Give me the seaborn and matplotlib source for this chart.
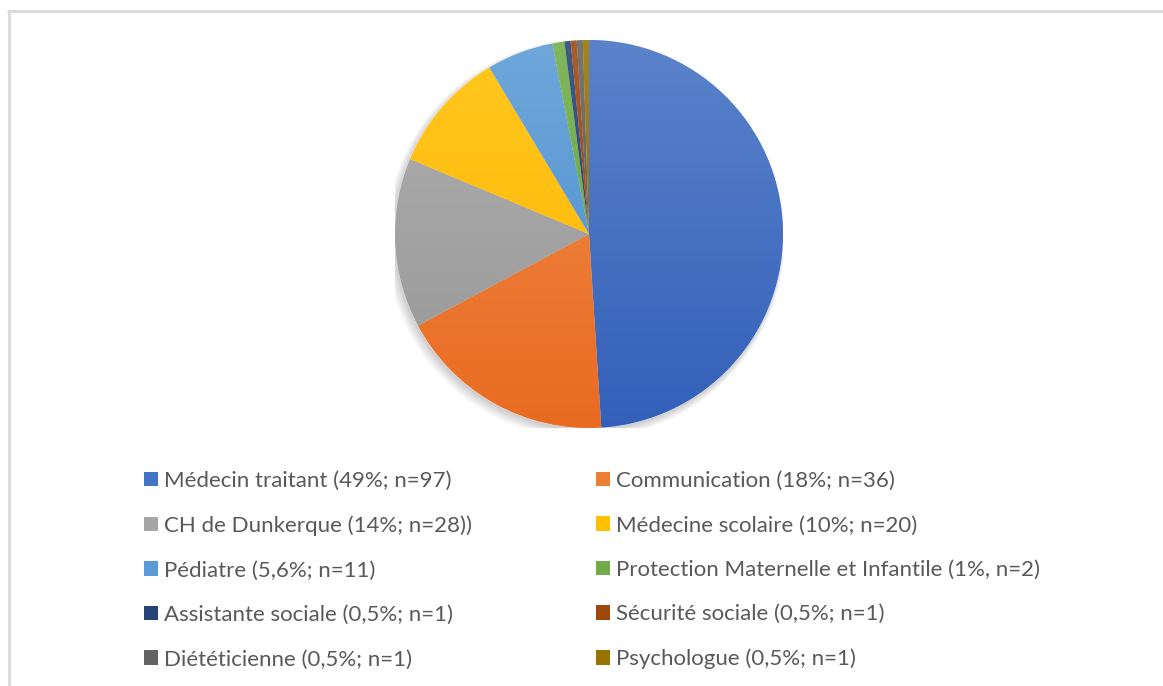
import numpy as np
import matplotlib
matplotlib.use("Agg")
import matplotlib.pyplot as plt
import matplotlib.colors as mcolors
from matplotlib.patches import Patch, Circle
import seaborn as sns

# Orientation sources for the patients (counts)
categories = [
    "Médecin traitant (49%; n=97)",
    "Communication (18%; n=36)",
    "CH de Dunkerque (14%; n=28))",
    "Médecine scolaire (10%; n=20)",
    "Pédiatre (5,6%; n=11)",
    "Protection Maternelle et Infantile (1%, n=2)",
    "Assistante sociale (0,5%; n=1)",
    "Sécurité sociale (0,5%; n=1)",
    "Diététicienne (0,5%; n=1)",
    "Psychologue (0,5%; n=1)",
]
counts = [97, 36, 28, 20, 11, 2, 1, 1, 1, 1]
palette_hex = ["#4472C4", "#ED7D31", "#A5A5A5", "#FFC000", "#5B9BD5",
               "#70AD47", "#264478", "#9E480E", "#636363", "#997300"]

sns.set_theme(style="white")
plt.rcParams["font.family"] = ["Lato", "DejaVu Sans"]
colors = sns.color_palette(palette_hex)

W, H = 1163, 686
fig = plt.figure(figsize=(W / 100, H / 100), dpi=100)
fig.patch.set_facecolor("white")

# chart frame (top and left edges visible)
fig.add_artist(plt.Line2D([9 / W, 9 / W], [0, 1 - 10.5 / H], transform=fig.transFigure,
                          color="#D9D9D9", lw=2))
fig.add_artist(plt.Line2D([8 / W, 1], [1 - 10.5 / H, 1 - 10.5 / H], transform=fig.transFigure,
                          color="#D9D9D9", lw=2))

cx, cy, r = 589, 234, 194
ax = fig.add_axes([(cx - r) / W, (H - cy - r) / H, 2 * r / W, 2 * r / H])

# soft drop shadow
for k in range(8):
    ax.add_patch(Circle((-0.006 - 0.002 * k, -0.012 - 0.002 * k), 1.0 + 0.004 * k,
                        color="black", alpha=0.022, lw=0, zorder=0))

wedges, _ = ax.pie(counts, colors=colors, startangle=90, counterclock=False,
                   radius=1.0, wedgeprops=dict(linewidth=0.4, edgecolor="white"))

# vertical shading over each slice: lighter at top, richer at bottom
yy = np.linspace(1, 0, 256)[:, None]
for w, c in zip(wedges, colors):
    rgb = np.array(mcolors.to_rgb(c))
    top = rgb + (1 - rgb) * 0.12
    bot = rgb ** 1.22
    img = top[None, None, :] * yy[..., None] + bot[None, None, :] * (1 - yy[..., None])
    img = np.repeat(img, 4, axis=1)
    im = ax.imshow(img, extent=(-1, 1, -1, 1), origin="upper", zorder=w.get_zorder() + 0.1,
                   interpolation="bilinear", aspect="auto")
    im.set_clip_path(w)

ax.set_xlim(-1, 1)
ax.set_ylim(-1, 1)
ax.set_aspect("equal")
ax.axis("off")

handles = [Patch(facecolor=c, edgecolor="none") for c in colors]
fs = 16
fpx = fs * 100 / 72
leg_kw = dict(loc="upper left", frameon=False, fontsize=fs, labelcolor="#595959",
              handlelength=14 / fpx, handleheight=14 / fpx, handletextpad=0.28,
              labelspacing=1.1, borderaxespad=0, borderpad=0)
# two columns, filled row by row
for col, x0 in enumerate([144, 596]):
    idx = list(range(col, len(categories), 2))
    fig.legend([handles[i] for i in idx], [categories[i] for i in idx],
               bbox_to_anchor=(x0 / W, 1 - 471 / H), **leg_kw)

fig.savefig("out.png", dpi=100, facecolor="white")
